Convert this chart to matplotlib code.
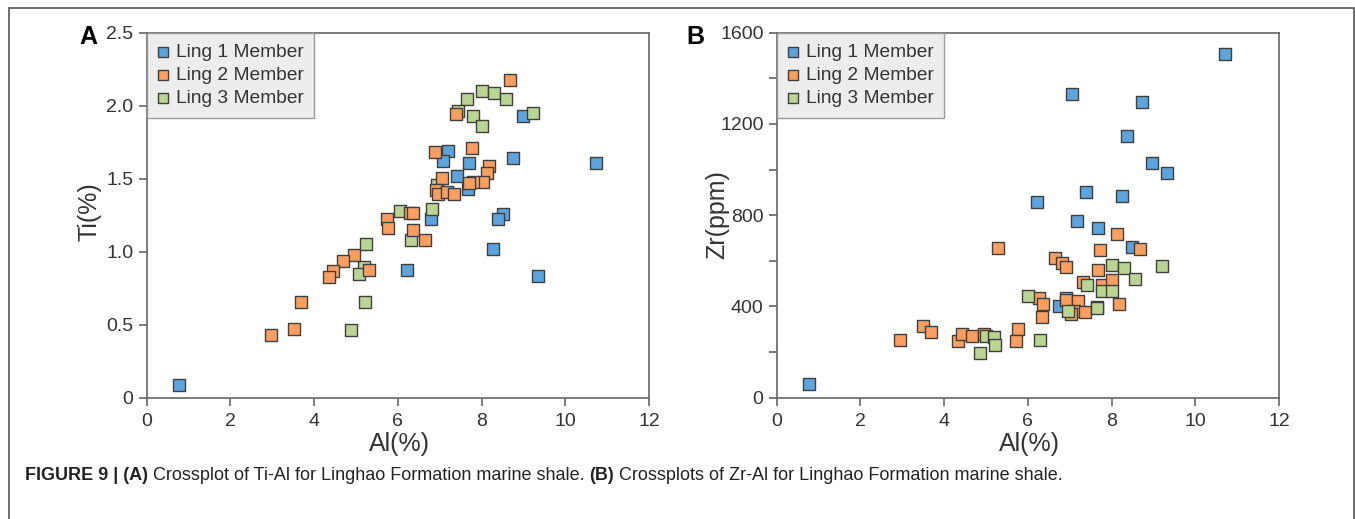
import matplotlib
matplotlib.use("Agg")
import matplotlib.pyplot as plt
from matplotlib.patches import Rectangle

plt.rcParams['font.family'] = ['Liberation Sans', 'DejaVu Sans']

# ---- Data ----
series_names = ["Ling 1 Member", "Ling 2 Member", "Ling 3 Member"]

# Panel A: Ti(%) vs Al(%)
l1_al_a = [0.78, 10.73, 8.98, 8.76, 7.21, 7.07, 7.70, 7.42, 7.68, 6.80, 8.52, 8.39, 8.28, 6.23, 9.35]
l1_ti_a = [0.087, 1.605, 1.927, 1.64, 1.69, 1.62, 1.61, 1.52, 1.43, 1.226, 1.258, 1.226, 1.02, 0.877, 0.836]

l2_al_a = [8.68, 7.40, 6.88, 7.77, 8.18, 8.14, 7.05, 8.04, 7.80, 7.70, 6.91, 6.97, 7.18, 7.33,
           5.73, 5.77, 6.29, 6.35, 6.35, 6.66, 4.96, 4.70, 4.46, 4.36, 5.30, 3.69, 3.51, 2.98]
l2_ti_a = [2.173, 1.945, 1.685, 1.708, 1.589, 1.537, 1.505, 1.475, 1.475, 1.47, 1.422, 1.393, 1.409, 1.395,
           1.224, 1.16, 1.263, 1.263, 1.146, 1.08, 0.979, 0.938, 0.865, 0.829, 0.874, 0.653, 0.468, 0.432]

l3_al_a = [8.02, 8.30, 8.58, 7.66, 7.43, 7.80, 8.02, 9.24, 6.93, 6.04, 6.82, 6.31, 5.24, 5.18, 5.06, 5.22, 4.89]
l3_ti_a = [2.098, 2.087, 2.046, 2.046, 1.966, 1.927, 1.858, 1.947, 1.457, 1.276, 1.292, 1.078, 1.052, 0.897, 0.845, 0.658, 0.461]

# Panel B: Zr(ppm) vs Al(%)
l1_al_b = [0.76, 10.72, 7.06, 8.73, 8.38, 8.96, 9.32, 7.40, 8.26, 6.22, 7.18, 7.68, 8.50, 6.75, 7.66]
l1_zr_b = [58, 1506, 1331, 1296, 1147, 1030, 986, 902, 884, 860, 773, 744, 660, 400, 396]

l2_al_b = [8.13, 5.29, 7.72, 8.67, 6.65, 6.82, 6.90, 7.68, 7.31, 7.76, 8.02, 6.27, 6.35, 6.90, 6.92,
           7.21, 7.10, 7.03, 7.37, 8.17, 6.34, 3.50, 3.68, 2.95, 4.34, 4.43, 4.67, 4.96, 5.77, 5.72]
l2_zr_b = [717, 656, 647, 652, 611, 592, 571, 561, 507, 492, 516, 435, 411, 438, 428,
           424, 380, 365, 374, 412, 355, 313, 286, 253, 248, 278, 272, 279, 300, 250]

l3_al_b = [8.00, 8.30, 8.57, 9.20, 7.41, 7.78, 8.02, 6.01, 6.96, 7.65, 5.01, 5.19, 5.21, 4.86, 6.29]
l3_zr_b = [582, 567, 522, 577, 492, 469, 469, 446, 378, 393, 270, 266, 231, 197, 253]

x_ticks = [0, 2, 4, 6, 8, 10, 12]
ti_ticks = [0, 0.5, 1.0, 1.5, 2.0, 2.5]
ti_tick_labels = ["0", "0.5", "1.0", "1.5", "2.0", "2.5"]
zr_major_ticks = [0, 400, 800, 1200, 1600]
zr_minor_ticks = [200, 600, 1000, 1400]

caption_parts = [("FIGURE 9 | (A)", "bold"),
                 (" Crossplot of Ti-Al for Linghao Formation marine shale. ", "normal"),
                 ("(B)", "bold"),
                 (" Crossplots of Zr-Al for Linghao Formation marine shale.", "normal")]

colors = ["#5BA4DE", "#FA9F60", "#BAD591"]
edge = "#3f3f3f"
axis_col = "#666666"
text_col = "#333333"

W, H = 1355, 519
fig = plt.figure(figsize=(W/100, H/100), dpi=100)

# Figure frame
fig.patches.append(Rectangle((9/W, -0.05), (1354-9)/W, 1 - 8/H + 0.05,
                             transform=fig.transFigure, fill=False,
                             edgecolor="#555555", linewidth=1.2))

axA = fig.add_axes([146.7/W, 1-397.7/H, (649-146.7)/W, (397.7-32.7)/H])
axB = fig.add_axes([776.7/W, 1-397.7/H, (1279-776.7)/W, (397.7-32.7)/H])

def style(ax):
    for s in ax.spines.values():
        s.set_color(axis_col)
        s.set_linewidth(1.2)
    ax.tick_params(axis='both', which='both', direction='out', color=axis_col,
                   labelcolor=text_col, labelsize=14, width=1.2,
                   top=False, right=False, length=6)
    ax.tick_params(axis='x', pad=5)
    ax.set_xlim(0, 12)
    ax.set_xticks(x_ticks)

sc_kw = dict(marker='s', s=72, edgecolors=edge, linewidths=1.0, zorder=3)

axA.scatter(l1_al_a, l1_ti_a, c=colors[0], label=series_names[0], **sc_kw)
axA.scatter(l3_al_a, l3_ti_a, c=colors[2], label=series_names[2], **sc_kw)
axA.scatter(l2_al_a, l2_ti_a, c=colors[1], label=series_names[1], **sc_kw)
style(axA)
axA.set_ylim(0, 2.5)
axA.set_yticks(ti_ticks)
axA.set_yticklabels(ti_tick_labels)

axB.scatter(l1_al_b, l1_zr_b, c=colors[0], label=series_names[0], **sc_kw)
axB.scatter(l2_al_b, l2_zr_b, c=colors[1], label=series_names[1], **sc_kw)
axB.scatter(l3_al_b, l3_zr_b, c=colors[2], label=series_names[2], **sc_kw)
style(axB)
axB.set_ylim(0, 1600)
axB.set_yticks(zr_major_ticks)
axB.set_yticks(zr_minor_ticks, minor=True)

for ax in (axA, axB):
    handles, labels = ax.get_legend_handles_labels()
    order = [labels.index(n) for n in series_names]
    leg = ax.legend([handles[i] for i in order], [labels[i] for i in order],
                    loc='upper left', borderaxespad=0, fancybox=False,
                    frameon=True, fontsize=13.8, handlelength=0.6,
                    handletextpad=0.38, borderpad=0.55, labelspacing=0.3,
                    markerscale=0.9)
    fr = leg.get_frame()
    fr.set_facecolor("#EDEDED")
    fr.set_edgecolor("#9a9a9a")
    fr.set_linewidth(1.0)
    fr.set_alpha(1)
    for t in leg.get_texts():
        t.set_color(text_col)

# Axis labels
lab_kw = dict(fontsize=18, color=text_col, ha='center', va='center')
fig.text(90/W, 1-212/H, "Ti(%)", rotation=90, **lab_kw)
fig.text(399/W, 1-444/H, "Al(%)", **lab_kw)
fig.text(717/W, 1-215/H, "Zr(ppm)", rotation=90, **lab_kw)
fig.text(1029/W, 1-444/H, "Al(%)", **lab_kw)

# Panel letters
fig.text(88/W, 1-37/H, "A", ha='center', va='center', fontsize=18,
         fontweight='bold', color='black')
fig.text(695/W, 1-37/H, "B", ha='center', va='center', fontsize=18,
         fontweight='bold', color='black')

# Caption built from bold / regular pieces, sized to the reference width
renderer = fig.canvas.get_renderer()
def draw_caption(fs):
    x = 25.0
    arts = []
    for txt, wgt in caption_parts:
        t = fig.text(x/W, 1-475/H, txt, ha='left', va='center', fontsize=fs,
                     fontweight=wgt, color='#222222')
        bb = t.get_window_extent(renderer=renderer)
        x += bb.width
        arts.append(t)
    return arts, x - 25.0

arts, width = draw_caption(12)
for a in arts:
    a.remove()
arts, width = draw_caption(12 * 1043.0 / width)

fig.savefig("out.png", dpi=100)
